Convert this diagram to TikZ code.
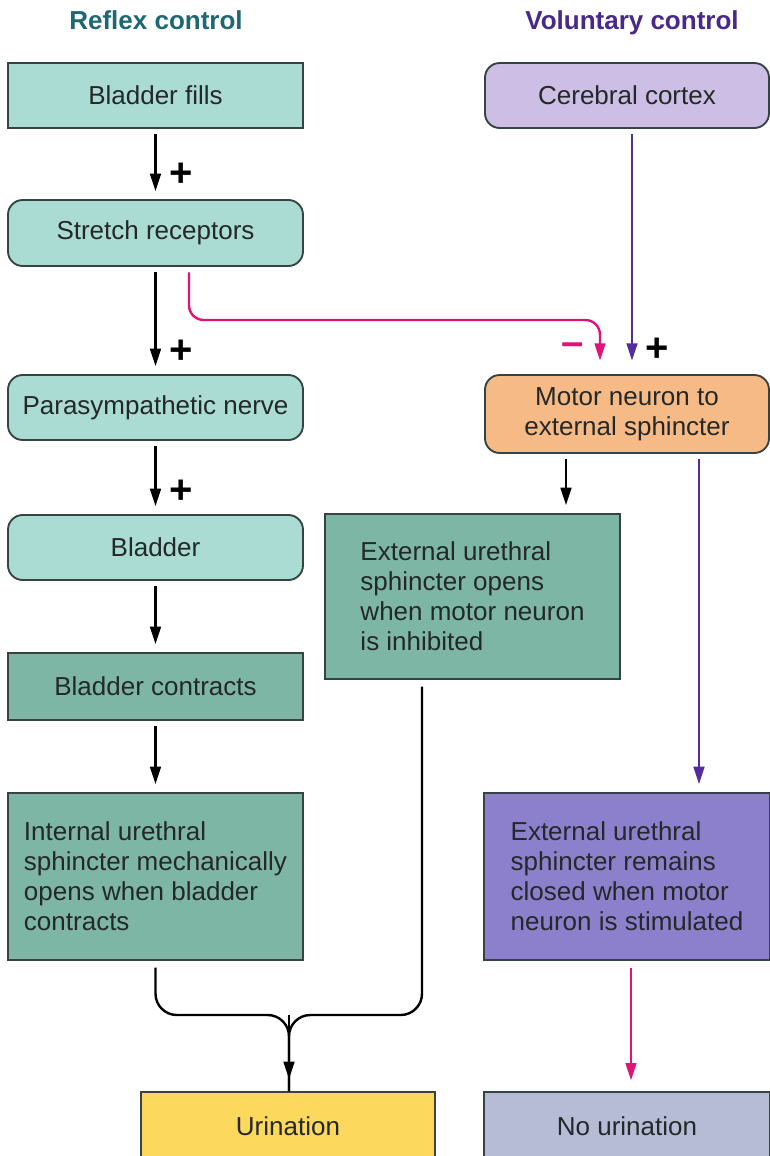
\documentclass[tikz,border=0pt]{standalone}
\usepackage{fontspec}
\setmainfont{Liberation Sans}
\usetikzlibrary{arrows.meta}
\definecolor{lteal}{RGB}{170,220,212}
\definecolor{dteal}{RGB}{126,182,166}
\definecolor{lav}{RGB}{204,190,228}
\definecolor{orng}{RGB}{246,186,134}
\definecolor{purp}{RGB}{140,128,204}
\definecolor{yel}{RGB}{252,216,92}
\definecolor{gblue}{RGB}{182,188,214}
\definecolor{pinkc}{RGB}{222,20,120}
\definecolor{purpl}{RGB}{84,44,156}
\definecolor{hteal}{RGB}{30,104,116}
\definecolor{hpurp}{RGB}{72,40,140}
\definecolor{bord}{RGB}{55,66,66}
\definecolor{txt}{RGB}{36,40,40}
\begin{document}
\begin{tikzpicture}[x=0.75pt,y=-0.75pt,
  box/.style 2 args={draw=bord, line width=1.4pt, minimum width=#1*0.75pt,
    minimum height=#2*0.75pt, inner sep=0pt, text=txt,
    font=\fontsize{19.5}{22.5}\selectfont, align=left},
  rbox/.style={rounded corners=11pt},
  head/.style={font=\bfseries\fontsize{19.5}{22.5}\selectfont, inner sep=0pt, anchor=base},
  sign/.style={font=\bfseries\fontsize{30}{30}\selectfont, inner sep=0pt},
  arr/.style={line width=1.8pt, -{Triangle[length=13pt,width=8pt]},
    shorten >=6pt, shorten <=4pt},
  blk/.style={arr, draw=black},
  prp/.style={arr, draw=purpl, -{Triangle[length=13pt,width=8pt,fill=purpl]}},
  pnk/.style={arr, draw=pinkc, -{Triangle[length=13pt,width=8pt,fill=pinkc]}},
]
\useasboundingbox[fill=white] (0,0) rectangle (770,1156);
\begin{scope}
\clip (0,0) rectangle (770,1156);
% headers
\node[head, text=hteal] (h1) at (156,30) {Reflex control};
\node[head, text=hpurp] (h2) at (632,30) {Voluntary control};
% left column
\node[box={295}{65}, fill=lteal] (bf) at (155.5,95.5) {Bladder fills};
\node[box={295}{66}, fill=lteal, rbox] (sr) at (155.5,233) {Stretch receptors};
\node[box={295}{65}, fill=lteal, rbox] (pn) at (155.5,407.5) {Parasympathetic nerve};
\node[box={295}{65}, fill=lteal, rbox] (bl) at (155.5,547.5) {Bladder};
\node[box={295}{67}, fill=dteal] (bc) at (155.5,686.5) {Bladder contracts};
\node[box={295}{167}, fill=dteal] (iu) at (155.5,876.5)
  {Internal urethral\\sphincter mechanically\\opens when bladder\\contracts};
% right column
\node[box={284}{65}, fill=lav, rbox] (cc) at (627,95.5) {Cerebral cortex};
\node[box={284}{78}, fill=orng, rbox, align=center] (mn) at (627,414)
  {Motor neuron to\\external sphincter};
\node[box={295}{165}, fill=dteal] (eo) at (472.5,596.5)
  {External urethral\\sphincter opens\\when motor neuron\\is inhibited};
\node[box={286}{167}, fill=purp] (er) at (627,876.5)
  {External urethral\\sphincter remains\\closed when motor\\neuron is stimulated};
\node[box={294}{68}, fill=yel] (ur) at (288,1126) {Urination};
\node[box={286}{68}, fill=gblue] (nu) at (627,1126) {No urination};
% connectors left
\draw[blk] (bf) -- (sr);
\draw[blk] (sr) -- (pn);
\draw[blk] (pn) -- (bl);
\draw[blk] (bl) -- (bc);
\draw[blk] (bc) -- (iu);
% pink inhibitory
\coordinate (p0) at ([xshift=33.5*0.75pt]sr.south);
\coordinate (pm) at (400,320);
\coordinate (p1) at ([xshift=-27*0.75pt]mn.north);
\draw[pnk, shorten >=10pt, rounded corners=11pt] (p0) |- (pm) -| (p1);
% purple from cortex
\coordinate (c0) at ([xshift=5*0.75pt]cc.south);
\draw[prp, shorten >=10pt] (c0) -- (c0 |- mn.north);
% signs
\node[sign] (s1) at (181,175) {+};
\node[sign] (s2) at (181,352) {+};
\node[sign] (s3) at (181,492) {+};
\node[sign] (s4) at (657,350) {+};
\node[sign, text=pinkc] (s5) at (573,349) {--};
% motor neuron outputs
\coordinate (m1) at ([xshift=-61*0.75pt]mn.south);
\draw[blk] (m1) -- (m1 |- eo.north);
\coordinate (m2) at ([xshift=72*0.75pt]mn.south);
\draw[prp] (m2) -- (m2 |- er.north);
% no urination
\coordinate (r1) at ([xshift=4*0.75pt]er.south);
\draw[pnk, shorten <=5pt, shorten >=8pt] (r1) -- (r1 |- nu.north);
% merge to urination
\coordinate (mg) at (289,1015);
\coordinate (e1) at ([xshift=-50.5*0.75pt]eo.south);
\draw[line width=1.8pt, rounded corners=16pt, shorten <=5pt] (iu.south) |- (mg) -- (mg |- ur.north);
\draw[line width=1.8pt, rounded corners=16pt, shorten <=5pt] (e1) |- (mg) -- (mg |- ur.north);
\draw[blk, shorten <=0pt, shorten >=9pt] (mg) -- (mg |- ur.north);
\end{scope}
\end{tikzpicture}
\end{document}
